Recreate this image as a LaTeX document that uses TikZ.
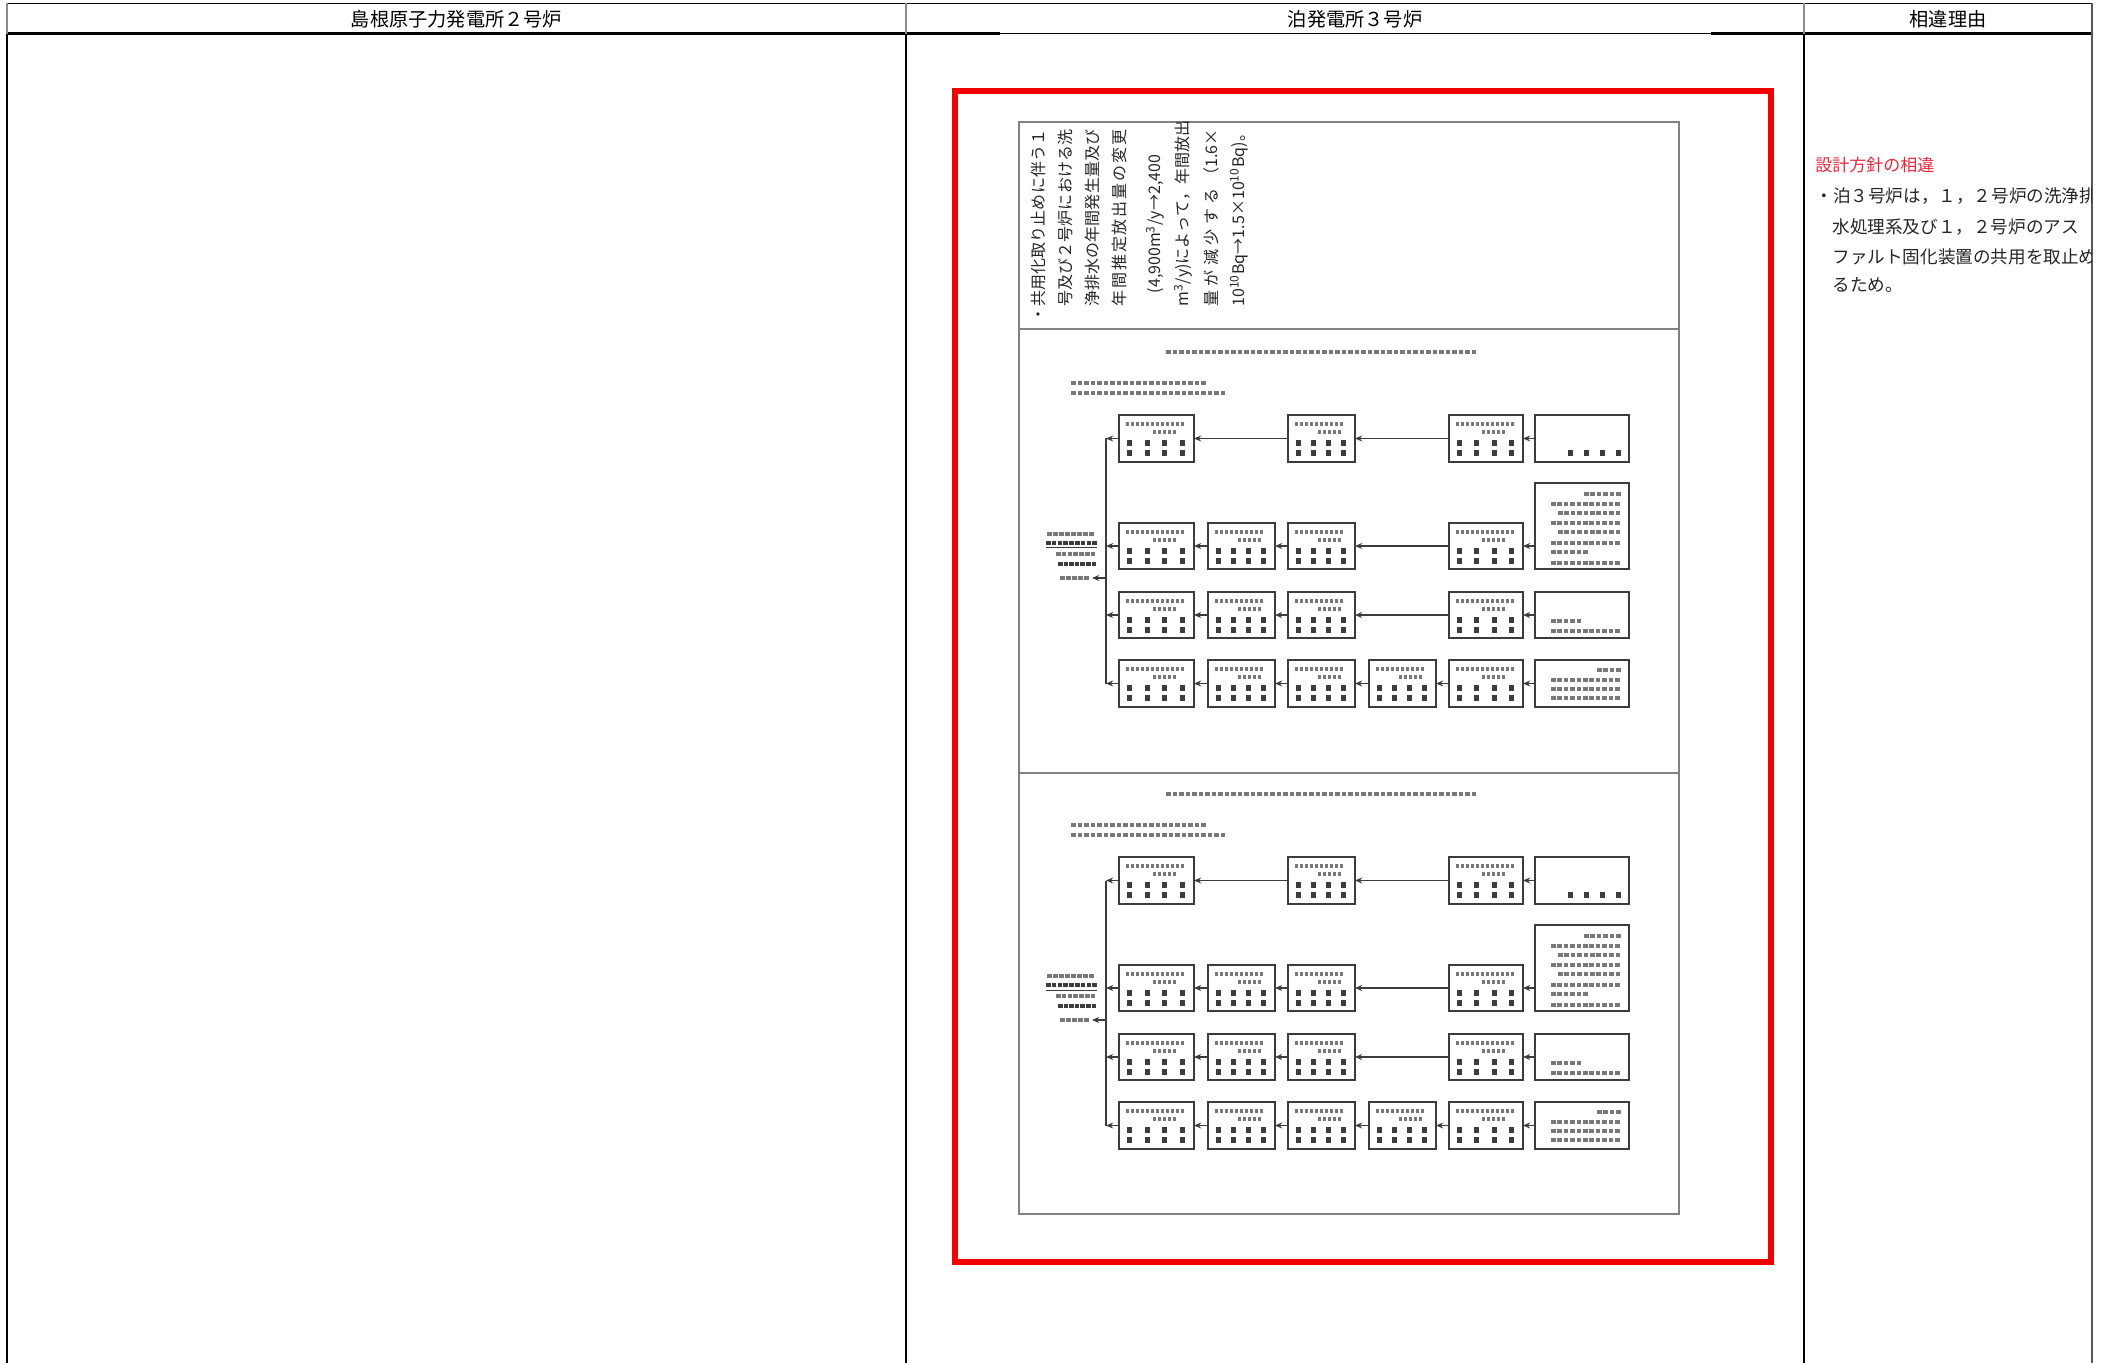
\documentclass[tikz,border=0pt]{standalone}
\usepackage{fontspec}
\setmainfont{Noto Sans CJK JP}
\usetikzlibrary{arrows.meta,fit}
\definecolor{redframe}{RGB}{240,0,0}
\definecolor{redtxt}{RGB}{232,40,60}
\definecolor{framegray}{RGB}{130,130,130}
\definecolor{boxgray}{RGB}{60,60,60}
\definecolor{glyph}{RGB}{60,60,60}
\definecolor{glyphlight}{RGB}{120,120,120}
\tikzset{
  tline/.style={line width=0.75pt,black},
  hline/.style={line width=0.75pt,black!45},
  fbox/.style={draw=boxgray,line width=0.65pt,inner sep=0pt,outer sep=0pt},
  flow/.style={draw=boxgray,line width=0.7pt,-{Stealth[length=3.6pt,width=3pt]}},
  busline/.style={draw=boxgray,line width=0.7pt},
  gl/.style={fill=glyph},
  gls/.style={fill=glyphlight},
  vtext/.style={rotate=90,anchor=west,inner sep=0pt,font=\fontsize{8pt}{8pt}\selectfont,text=black!85},
  hdr/.style={font=\fontsize{9.6pt}{10pt}\selectfont,inner sep=0pt},
  rtext/.style={font=\fontsize{8.8pt}{9pt}\selectfont,anchor=west,inner sep=0pt,text=black!85},
}
% row of small blocks standing for illegible (upside-down) text
\newcommand\mkrow[7][gl]{\foreach \i in {1,...,#4}{\fill[#1] ({#2+(\i-1)*(#5)},{#3-(#7)/2}) rectangle ++(#6,#7);}}
% generic flow box
\newcommand\gbox[5]{%
  \node[fbox,fit={(#2,#3)(#4,#5)}] (#1) {};
  \pgfmathtruncatemacro\mkna{((#4)-(#2)-14)/5}%
  \mkrow[gls]{#2+7}{#3+9}{\mkna}{5}{3}{3.4}%
  \pgfmathtruncatemacro\mknb{(0.5*((#4)-(#2))-8)/5}%
  \mkrow[gls]{#2+0.45*((#4)-(#2))}{#3+17}{\mknb}{5}{3}{3.4}%
  \pgfmathsetmacro\mksp{((#4)-(#2)-22)/3}%
  \mkrow{#2+8}{#3+28}{4}{\mksp}{5}{5.5}%
  \mkrow{#2+8}{#3+38}{4}{\mksp}{5}{5.5}%
}
\newcommand\flowdiag[1]{%
  % caption and notes
  \mkrow[gls]{1166}{352}{48}{6.5}{4.5}{4.5}
  \mkrow[gls]{1071}{383}{21}{6.5}{4.5}{4}
  \mkrow[gls]{1071}{393}{24}{6.5}{4.5}{4}
  % row 1
  \gbox{#1a1}{1119}{415}{1194}{462}
  \gbox{#1b1}{1288}{415}{1355}{462}
  \gbox{#1c1}{1449}{415}{1523}{462}
  \node[fbox,fit={(1535,415)(1629,462)}] (#1d1) {};
  \mkrow{1568}{453}{4}{16}{5}{5.5}
  % row 2
  \gbox{#1a2}{1119}{523}{1194}{569}
  \gbox{#1e2}{1208}{523}{1275}{569}
  \gbox{#1b2}{1288}{523}{1355}{569}
  \gbox{#1c2}{1449}{523}{1523}{569}
  \node[fbox,fit={(1535,483)(1629,569)}] (#1d2) {};
  \mkrow[gls]{1584}{494}{6}{6.4}{4.5}{4.5}
  \mkrow[gls]{1551}{504}{11}{6.4}{4.5}{4.5}
  \mkrow[gls]{1558}{513}{10}{6.4}{4.5}{4.5}
  \mkrow[gls]{1551}{523}{11}{6.4}{4.5}{4.5}
  \mkrow[gls]{1558}{532}{10}{6.4}{4.5}{4.5}
  \mkrow[gls]{1551}{543}{11}{6.4}{4.5}{4.5}
  \mkrow[gls]{1551}{552}{6}{6.4}{4.5}{4.5}
  \mkrow[gls]{1551}{563}{11}{6.4}{4.5}{4.5}
  % row 3
  \gbox{#1a3}{1119}{592}{1194}{638}
  \gbox{#1e3}{1208}{592}{1275}{638}
  \gbox{#1b3}{1288}{592}{1355}{638}
  \gbox{#1c3}{1449}{592}{1523}{638}
  \node[fbox,fit={(1535,592)(1629,638)}] (#1d3) {};
  \mkrow[gls]{1551}{621}{5}{6.4}{4.5}{4.5}
  \mkrow[gls]{1551}{631}{11}{6.4}{4.5}{4.5}
  % row 4
  \gbox{#1a4}{1119}{660}{1194}{707}
  \gbox{#1e4}{1208}{660}{1275}{707}
  \gbox{#1b4}{1288}{660}{1355}{707}
  \gbox{#1x4}{1369}{660}{1436}{707}
  \gbox{#1c4}{1449}{660}{1523}{707}
  \node[fbox,fit={(1535,660)(1629,707)}] (#1d4) {};
  \mkrow[gls]{1597}{670}{4}{6.4}{4.5}{4.5}
  \mkrow[gls]{1551}{680}{11}{6.4}{4.5}{4.5}
  \mkrow[gls]{1551}{689}{11}{6.4}{4.5}{4.5}
  \mkrow[gls]{1551}{698}{11}{6.4}{4.5}{4.5}
  % connectors
  \draw[flow] (#1d1.west) -- (#1c1.east);
  \draw[flow] (#1c1.west) -- (#1b1.east);
  \draw[flow] (#1b1.west) -- (#1a1.east);
  \draw[flow] (#1d2.west |- #1c2.east) -- (#1c2.east);
  \draw[flow] (#1c2.west) -- (#1b2.east);
  \draw[flow] (#1b2.west) -- (#1e2.east);
  \draw[flow] (#1e2.west) -- (#1a2.east);
  \draw[flow] (#1d3.west) -- (#1c3.east);
  \draw[flow] (#1c3.west) -- (#1b3.east);
  \draw[flow] (#1b3.west) -- (#1e3.east);
  \draw[flow] (#1e3.west) -- (#1a3.east);
  \draw[flow] (#1d4.west) -- (#1c4.east);
  \draw[flow] (#1c4.west) -- (#1x4.east);
  \draw[flow] (#1x4.west) -- (#1b4.east);
  \draw[flow] (#1b4.west) -- (#1e4.east);
  \draw[flow] (#1e4.west) -- (#1a4.east);
  % collecting line and outlet
  \coordinate (#1bx) at (1106,0);
  \coordinate (#1exit) at (1092,578);
  \draw[busline] (#1a1.west -| #1bx) -- (#1a4.west -| #1bx);
  \draw[flow] (#1a1.west) -- (#1a1.west -| #1bx);
  \draw[flow] (#1a2.west) -- (#1a2.west -| #1bx);
  \draw[flow] (#1a3.west) -- (#1a3.west -| #1bx);
  \draw[flow] (#1a4.west) -- (#1a4.west -| #1bx);
  \draw[flow] (#1exit -| #1bx) -- (#1exit);
  % side labels
  \mkrow[gls]{1047}{534}{8}{6}{4.5}{4.2}
  \mkrow{1046}{543}{9}{5.8}{4.5}{4.2}
  \draw[glyph,line width=0.5pt] (1046,548) -- (1097,548);
  \mkrow[gls]{1056}{554}{7}{5.8}{4.5}{4.2}
  \mkrow{1058}{564}{7}{5.6}{4.5}{4.2}
  \mkrow[gls]{1060}{578}{5}{6}{4.5}{4.5}
}
\begin{document}
\begin{tikzpicture}[x=0.5pt,y=-0.5pt]
\useasboundingbox (0,0) rectangle (2103,1363);
\fill[white] (0,0) rectangle (2103,1363);
% table
\draw[tline] (7,3.5) -- (2092,3.5);
\draw[black,line width=1.25pt] (7,33.7) -- (1000,33.7);
\draw[black,line width=1.25pt] (1711,33.7) -- (2092,33.7);
\draw[black,line width=0.75pt] (1000,33.7) -- (1711,33.7);
\draw[hline] (7,3.5) -- (7,33.7);
\draw[hline] (906,3.5) -- (906,33.7);
\draw[hline] (1804,3.5) -- (1804,33.7);
\draw[tline] (7,33.7) -- (7,1363);
\draw[tline] (906,33.7) -- (906,1363);
\draw[tline] (1804,33.7) -- (1804,1363);
\draw[line width=0.75pt,black!65] (2092,3.5) -- (2092,1363);
\node[hdr] (h1) at (456.5,19) {島根原子力発電所２号炉};
\node[hdr] (h2) at (1355,19) {泊発電所３号炉};
\node[hdr] (h3) at (1948,19) {相違理由};
% red frame and inner page
\draw[redframe,line width=2.7pt] (955,91) rectangle (1771,1262);
\draw[framegray,line width=0.8pt] (1019,122) rectangle (1679,1214);
\draw[framegray,line width=0.8pt] (1019,329) -- (1679,329);
\draw[framegray,line width=0.8pt] (1019,773) -- (1679,773);
% rotated remark text
\node[vtext] (v1) at (1038,323) {・\makebox[88.5pt][s]{共\hfill 用\hfill 化\hfill 取\hfill り\hfill 止\hfill め\hfill に\hfill 伴\hfill う\hfill １}};
\node[vtext] (v2) at (1065,307) {\makebox[88.5pt][s]{号\hfill 及\hfill び\hfill ２\hfill 号\hfill 炉\hfill に\hfill お\hfill け\hfill る\hfill 洗}};
\node[vtext] (v3) at (1092,307) {\makebox[88.5pt][s]{浄\hfill 排\hfill 水\hfill の\hfill 年\hfill 間\hfill 発\hfill 生\hfill 量\hfill 及\hfill び}};
\node[vtext] (v4) at (1119,307) {\makebox[88.5pt][s]{年\hfill 間\hfill 推\hfill 定\hfill 放\hfill 出\hfill 量\hfill の\hfill 変\hfill 更}};
\node[vtext,anchor=center] (v5) at (1155,224) {(4,900m\textsuperscript{3}/y→2,400};
\node[vtext] (v6) at (1183,307) {\makebox[88.5pt][s]{m\textsuperscript{3}/y)\hfill に\hfill よ\hfill っ\hfill て\hfill ，\hfill 年\hfill 間\hfill 放\hfill 出}};
\node[vtext] (v7) at (1211,307) {\makebox[88.5pt][s]{量\hfill が\hfill 減\hfill 少\hfill す\hfill る\hfill （1.6×}};
\node[vtext] (v8) at (1239,307) {10\textsuperscript{10}Bq→1.5×10\textsuperscript{10}Bq)。};
% the two (upside-down) flow sheets
\begin{scope}
\flowdiag{p}
\end{scope}
\begin{scope}[shift={(0,442)}]
\flowdiag{q}
\end{scope}
% reason column
\begin{scope}
\clip (1805,36) rectangle (2091,1363);
\node[rtext,text=redtxt,font=\fontsize{8.5pt}{9pt}\selectfont] (r0) at (1815,165) {設計方針の相違};
\node[rtext] (r1) at (1815,196) {・泊３号炉は，１，２号炉の洗浄排};
\node[rtext] (r2) at (1832,227) {水処理系及び１，２号炉のアス};
\node[rtext] (r3) at (1832,257) {ファルト固化装置の共用を取止め};
\node[rtext] (r4) at (1832,285) {るため。};
\end{scope}
\end{tikzpicture}
\end{document}
